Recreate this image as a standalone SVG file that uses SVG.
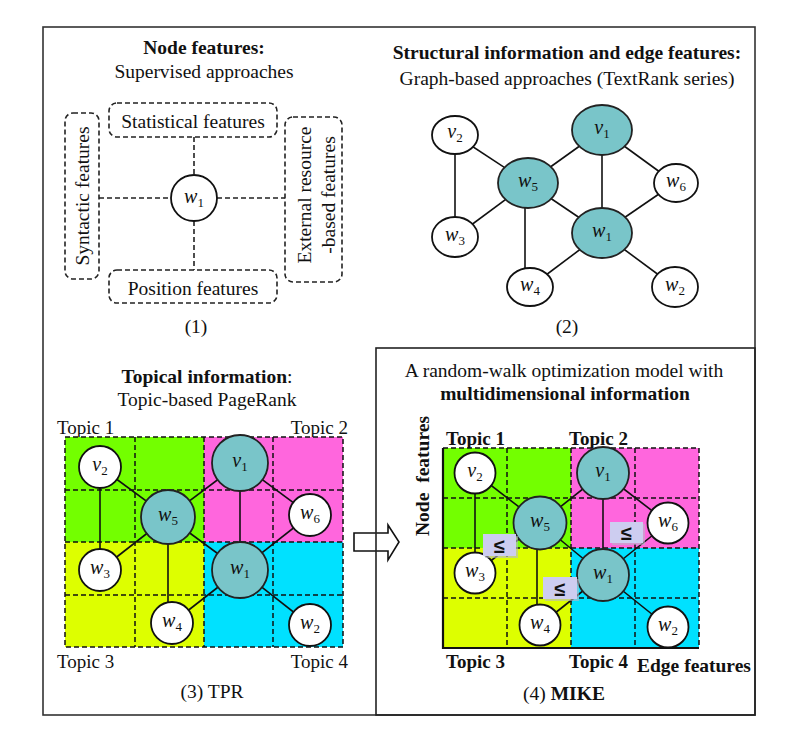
<svg xmlns="http://www.w3.org/2000/svg" width="796" height="740" viewBox="0 0 796 740">
<defs>
<style>
text{font-family:"Liberation Serif","Times New Roman",serif;fill:#111;}
.t{font-size:19.5px;}
.b{font-size:19.5px;font-weight:bold;}
.c{text-anchor:middle;}
.e{text-anchor:end;}
.tp{font-size:19px;}
.lbl{font-size:20px;font-style:italic;text-anchor:middle;}
.sub{font-size:13px;font-style:normal;}
.leq{font-family:"Liberation Sans","DejaVu Sans",sans-serif;font-size:20px;font-weight:bold;text-anchor:middle;}
.dbox{fill:none;stroke:#222;stroke-width:1.6;stroke-dasharray:5 3;}
.dl{stroke:#222;stroke-width:1.6;stroke-dasharray:5 3;fill:none;}
.grid{stroke:#111;stroke-width:1.5;stroke-dasharray:5 3;fill:none;}
.edge{stroke:#111;stroke-width:1.6;fill:none;}
.wn{fill:#fff;stroke:#111;stroke-width:1.8;}
.tn{fill:#79C5C9;stroke:#222;stroke-width:1.8;}
.le{fill:#CDCDF0;stroke:none;}
.les{fill:#B8B8C8;opacity:0.6;}
</style>
</defs>
<rect width="796" height="740" fill="#fff"/>

<!-- block arrow -->
<path id="arrow" d="M354,533 H388 V525 L399,542 L388,560 V551 H354 Z" fill="#fff" stroke="#111" stroke-width="1.6"/>

<!-- frames -->
<rect x="43" y="27" width="712" height="688" fill="none" stroke="#333" stroke-width="1.6"/>
<rect x="376" y="348" width="379" height="367" fill="none" stroke="#222" stroke-width="1.6"/>

<!-- ===== Panel 1 ===== -->
<g id="panel1">
<text class="b c" x="204" y="54">Node features:</text>
<text class="t c" x="204" y="78">Supervised approaches</text>
<g id="p1-connectors">
<line class="dl" x1="194" y1="137" x2="194" y2="175"/>
<line class="dl" x1="194" y1="221" x2="194" y2="270"/>
<line class="dl" x1="99" y1="198" x2="171" y2="198"/>
<line class="dl" x1="217" y1="198" x2="285" y2="198"/>
</g>
<g id="p1-stat"><rect class="dbox" x="109" y="103" width="168" height="34" rx="8"/><text class="t c" x="193" y="128">Statistical features</text></g>
<g id="p1-pos"><rect class="dbox" x="109" y="270" width="168" height="33" rx="8"/><text class="t c" x="193" y="295">Position features</text></g>
<g id="p1-syn"><rect class="dbox" x="65" y="113" width="34" height="166" rx="8"/><text class="t c" transform="translate(89,196) rotate(-90)">Syntactic features</text></g>
<g id="p1-ext"><rect class="dbox" x="285" y="117" width="57" height="165" rx="8"/><text class="t c" transform="translate(311,195) rotate(-90)">External resource</text><text class="t c" transform="translate(335,195) rotate(-90)">-based features</text></g>
<g id="p1-w1"><circle class="wn" cx="194" cy="198" r="23"/><text class="lbl" x="194" y="203">w<tspan class="sub" dy="4">1</tspan></text></g>
<text class="t c" x="196" y="333">(1)</text>
</g>

<!-- ===== Panel 2 ===== -->
<g id="panel2">
<text class="b c" x="567" y="59">Structural information and edge features:</text>
<text class="t c" x="567" y="85">Graph-based approaches (TextRank series)</text>
<g id="p2-connectors">
<line class="edge" x1="455" y1="135" x2="455" y2="237"/>
<line class="edge" x1="455" y1="135" x2="528" y2="183"/>
<line class="edge" x1="528" y1="183" x2="455" y2="237"/>
<line class="edge" x1="528" y1="183" x2="602" y2="130"/>
<line class="edge" x1="528" y1="183" x2="602" y2="233"/>
<line class="edge" x1="525" y1="183" x2="525" y2="287"/>
<line class="edge" x1="602" y1="130" x2="602" y2="233"/>
<line class="edge" x1="602" y1="130" x2="675" y2="183"/>
<line class="edge" x1="675" y1="183" x2="602" y2="233"/>
<line class="edge" x1="602" y1="233" x2="530" y2="287"/>
<line class="edge" x1="602" y1="233" x2="675" y2="287"/>
</g>
<g id="p2-v2"><ellipse class="wn" cx="455" cy="135" rx="23" ry="19"/><text class="lbl" x="455" y="138">v<tspan class="sub" dy="4">2</tspan></text></g>
<g id="p2-v1"><ellipse class="tn" cx="602" cy="130" rx="30" ry="25"/><text class="lbl" x="602" y="134">v<tspan class="sub" dy="4">1</tspan></text></g>
<g id="p2-w5"><ellipse class="tn" cx="528" cy="183" rx="30" ry="25"/><text class="lbl" x="528" y="187">w<tspan class="sub" dy="4">5</tspan></text></g>
<g id="p2-w6"><ellipse class="wn" cx="676" cy="183" rx="22" ry="19"/><text class="lbl" x="676" y="187">w<tspan class="sub" dy="4">6</tspan></text></g>
<g id="p2-w3"><ellipse class="wn" cx="455" cy="237" rx="23" ry="20"/><text class="lbl" x="455" y="241">w<tspan class="sub" dy="4">3</tspan></text></g>
<g id="p2-w1"><ellipse class="tn" cx="602" cy="233" rx="30" ry="25"/><text class="lbl" x="602" y="237">w<tspan class="sub" dy="4">1</tspan></text></g>
<g id="p2-w4"><ellipse class="wn" cx="530" cy="287" rx="23" ry="19"/><text class="lbl" x="530" y="291">w<tspan class="sub" dy="4">4</tspan></text></g>
<g id="p2-w2"><ellipse class="wn" cx="675" cy="287" rx="23" ry="20"/><text class="lbl" x="675" y="291">w<tspan class="sub" dy="4">2</tspan></text></g>
<text class="t c" x="567" y="333">(2)</text>
</g>

<!-- ===== Panel 3 ===== -->
<g id="panel3">
<text class="c" x="207" y="383"><tspan class="b">Topical information</tspan><tspan class="t">:</tspan></text>
<text class="t c" x="207" y="406">Topic-based PageRank</text>
<text class="tp" x="57" y="434">Topic 1</text>
<text class="tp e" x="348" y="434">Topic 2</text>
<text class="tp" x="57" y="668">Topic 3</text>
<text class="tp e" x="348" y="668">Topic 4</text>
<rect x="65" y="437" width="139" height="105" fill="#73FF00"/>
<rect x="204" y="437" width="139" height="105" fill="#FF66DD"/>
<rect x="65" y="542" width="139" height="105" fill="#DDFF00"/>
<rect x="204" y="542" width="139" height="105" fill="#00E1FF"/>
<g class="grid">
<rect x="65" y="437" width="278" height="210"/>
<line x1="135" y1="437" x2="135" y2="647"/>
<line x1="204" y1="437" x2="204" y2="647"/>
<line x1="273" y1="437" x2="273" y2="647"/>
<line x1="65" y1="490" x2="343" y2="490"/>
<line x1="65" y1="542" x2="343" y2="542"/>
<line x1="65" y1="595" x2="343" y2="595"/>
</g>
<g id="p3-connectors">
<line class="edge" x1="100" y1="467" x2="100" y2="570"/>
<line class="edge" x1="100" y1="467" x2="168" y2="517"/>
<line class="edge" x1="168" y1="517" x2="100" y2="570"/>
<line class="edge" x1="168" y1="517" x2="240" y2="463"/>
<line class="edge" x1="168" y1="517" x2="240" y2="570"/>
<line class="edge" x1="168" y1="517" x2="168" y2="623"/>
<line class="edge" x1="240" y1="463" x2="240" y2="570"/>
<line class="edge" x1="240" y1="463" x2="310" y2="515"/>
<line class="edge" x1="310" y1="515" x2="240" y2="570"/>
<line class="edge" x1="240" y1="570" x2="172" y2="623"/>
<line class="edge" x1="240" y1="570" x2="310" y2="625"/>
</g>
<g id="p3-v2"><circle class="wn" cx="100" cy="467" r="21"/><text class="lbl" x="100" y="471">v<tspan class="sub" dy="4">2</tspan></text></g>
<g id="p3-v1"><circle class="tn" cx="240" cy="463" r="28"/><text class="lbl" x="240" y="467">v<tspan class="sub" dy="4">1</tspan></text></g>
<g id="p3-w5"><circle class="tn" cx="168" cy="517" r="27"/><text class="lbl" x="168" y="521">w<tspan class="sub" dy="4">5</tspan></text></g>
<g id="p3-w6"><circle class="wn" cx="310" cy="515" r="21"/><text class="lbl" x="310" y="519">w<tspan class="sub" dy="4">6</tspan></text></g>
<g id="p3-w3"><circle class="wn" cx="100" cy="570" r="21"/><text class="lbl" x="100" y="574">w<tspan class="sub" dy="4">3</tspan></text></g>
<g id="p3-w1"><circle class="tn" cx="240" cy="570" r="28"/><text class="lbl" x="240" y="574">w<tspan class="sub" dy="4">1</tspan></text></g>
<g id="p3-w4"><circle class="wn" cx="172" cy="623" r="21"/><text class="lbl" x="172" y="627">w<tspan class="sub" dy="4">4</tspan></text></g>
<g id="p3-w2"><circle class="wn" cx="310" cy="625" r="21"/><text class="lbl" x="310" y="629">w<tspan class="sub" dy="4">2</tspan></text></g>
<text class="t c" x="212" y="698">(3) TPR</text>
</g>

<!-- ===== Panel 4 ===== -->
<g id="panel4">
<text class="t c" x="564" y="377">A random-walk optimization model with</text>
<text class="b c" x="565" y="400">multidimensional information</text>
<text class="b c" transform="translate(429,476) rotate(-90)" word-spacing="5">Node features</text>
<text class="tp" font-weight="bold" x="446" y="445">Topic 1</text>
<text class="tp" font-weight="bold" x="569" y="445">Topic 2</text>
<text class="tp" font-weight="bold" x="446" y="668">Topic 3</text>
<text class="tp" font-weight="bold" x="569" y="668">Topic 4</text>
<text class="b" x="637" y="672">Edge features</text>
<rect x="443" y="448" width="128" height="100" fill="#73FF00"/>
<rect x="571" y="448" width="128" height="100" fill="#FF66DD"/>
<rect x="443" y="548" width="128" height="100" fill="#DDFF00"/>
<rect x="571" y="548" width="128" height="100" fill="#00E1FF"/>
<g class="grid">
<line x1="443" y1="448" x2="699" y2="448"/>
<line x1="699" y1="448" x2="699" y2="648"/>
<line x1="507" y1="448" x2="507" y2="648"/>
<line x1="571" y1="448" x2="571" y2="648"/>
<line x1="635" y1="448" x2="635" y2="648"/>
<line x1="443" y1="498" x2="699" y2="498"/>
<line x1="443" y1="548" x2="699" y2="548"/>
<line x1="443" y1="598" x2="699" y2="598"/>
</g>
<path d="M443,448 V648 H699" fill="none" stroke="#111" stroke-width="2.2"/>
<g id="p4-connectors">
<line class="edge" x1="475" y1="473" x2="475" y2="573"/>
<line class="edge" x1="475" y1="473" x2="540" y2="523"/>
<line class="edge" x1="540" y1="523" x2="475" y2="573"/>
<line class="edge" x1="540" y1="523" x2="603" y2="473"/>
<line class="edge" x1="540" y1="523" x2="603" y2="575"/>
<line class="edge" x1="537" y1="523" x2="537" y2="625"/>
<line class="edge" x1="603" y1="473" x2="603" y2="575"/>
<line class="edge" x1="603" y1="473" x2="668" y2="523"/>
<line class="edge" x1="668" y1="523" x2="603" y2="575"/>
<line class="edge" x1="603" y1="575" x2="540" y2="625"/>
<line class="edge" x1="603" y1="575" x2="668" y2="627"/>
</g>
<g id="p4-v2"><circle class="wn" cx="475" cy="473" r="20.5"/><text class="lbl" x="475" y="477">v<tspan class="sub" dy="4">2</tspan></text></g>
<g id="p4-v1"><circle class="tn" cx="603" cy="473" r="26"/><text class="lbl" x="603" y="477">v<tspan class="sub" dy="4">1</tspan></text></g>
<g id="p4-w5"><circle class="tn" cx="540" cy="523" r="26.5"/><text class="lbl" x="540" y="527">w<tspan class="sub" dy="4">5</tspan></text></g>
<g id="p4-w6"><circle class="wn" cx="668" cy="523" r="20.5"/><text class="lbl" x="668" y="527">w<tspan class="sub" dy="4">6</tspan></text></g>
<g id="p4-w3"><circle class="wn" cx="475" cy="573" r="20.5"/><text class="lbl" x="475" y="577">w<tspan class="sub" dy="4">3</tspan></text></g>
<g id="p4-w1"><circle class="tn" cx="603" cy="575" r="26"/><text class="lbl" x="603" y="579">w<tspan class="sub" dy="4">1</tspan></text></g>
<g id="p4-w4"><circle class="wn" cx="540" cy="625" r="20.5"/><text class="lbl" x="540" y="629">w<tspan class="sub" dy="4">4</tspan></text></g>
<g id="p4-w2"><circle class="wn" cx="668" cy="627" r="20.5"/><text class="lbl" x="668" y="631">w<tspan class="sub" dy="4">2</tspan></text></g>
<g id="p4-le1"><rect class="les" x="485" y="536" width="33" height="22"/><rect class="le" x="483" y="534" width="33" height="22"/><text class="leq" x="499.5" y="553">≤</text></g>
<g id="p4-le2"><rect class="les" x="545" y="579" width="34" height="22"/><rect class="le" x="543" y="577" width="34" height="22"/><text class="leq" x="560" y="596">≤</text></g>
<g id="p4-le3"><rect class="les" x="612" y="524" width="33" height="21"/><rect class="le" x="610" y="522" width="33" height="21"/><text class="leq" x="626.5" y="540">≤</text></g>
<text class="c" x="564" y="700"><tspan class="t">(4) </tspan><tspan class="b">MIKE</tspan></text>
</g>
</svg>
